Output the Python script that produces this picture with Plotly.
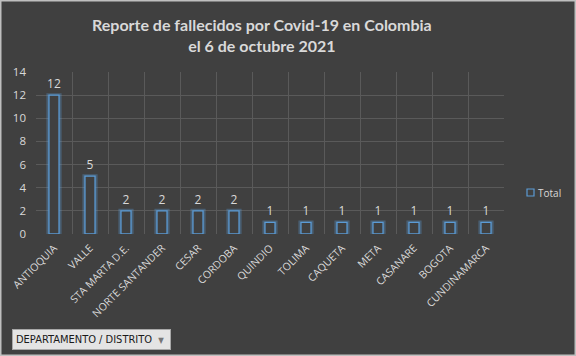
import plotly.graph_objects as go

categories = ["ANTIOQUIA", "VALLE", "STA MARTA D.E.", "NORTE SANTANDER", "CESAR",
              "CORDOBA", "QUINDIO", "TOLIMA", "CAQUETA", "META", "CASANARE",
              "BOGOTA", "CUNDINAMARCA"]
totals = [12, 5, 2, 2, 2, 2, 1, 1, 1, 1, 1, 1, 1]
y_ticks = [0, 2, 4, 6, 8, 10, 12, 14]
series_name = "Total"

W, H = 576, 356
L, R, T, B = 36, 72, 72, 122
pw, ph = W - L - R, H - T - B

bg = "#404040"
txt = "#d9d9d9"
blue = "#5b9bd5"


def px_x(p):
    return (p - L) / pw


def px_y(p):
    return (H - B - p) / ph


fig = go.Figure()
# glow
fig.add_trace(go.Bar(x=categories, y=totals, width=0.31,
                     marker=dict(color="rgba(0,0,0,0)", line=dict(color="rgba(91,155,213,0.35)", width=4)),
                     showlegend=False, hoverinfo="skip"))
fig.add_trace(go.Bar(x=categories, y=totals, name=series_name, width=0.28,
                     marker=dict(color=bg, line=dict(color=blue, width=1.3)),
                     text=[str(v) for v in totals], textposition="outside",
                     constraintext="none",
                     textfont=dict(color=txt, size=12, family="Open Sans"),
                     cliponaxis=False, showlegend=False))

fig.update_layout(
    width=W, height=H,
    margin=dict(l=L, r=R, t=T, b=B, autoexpand=False),
    paper_bgcolor=bg, plot_bgcolor=bg,
    barmode="overlay",
    font=dict(family="Open Sans", color=txt),
    showlegend=False,
    xaxis=dict(type="category", tickangle=-45, tickfont=dict(size=10.5, color=txt),
               showgrid=True, gridcolor="#5a5a5a", tickson="boundaries", ticks="",
               showline=False, zeroline=False, range=[-0.5, len(categories) - 0.5],
               ticklabelstandoff=5, automargin=False),
    yaxis=dict(range=[0, 14], tickvals=y_ticks, tickfont=dict(size=11.5, color=txt),
               showgrid=True, gridcolor="#5a5a5a", zeroline=False, showline=False,
               ticklabelstandoff=9, automargin=False),
)

# title
fig.add_annotation(text="<b>Reporte de fallecidos por Covid-19 en Colombia<br>el 6 de octubre 2021</b>",
                   xref="paper", yref="paper", x=px_x(262), y=px_y(34.5),
                   xanchor="center", yanchor="middle", showarrow=False,
                   font=dict(size=16, color=txt, family="Lato"))

# outer border
fig.add_shape(type="rect", xref="paper", yref="paper",
              x0=px_x(0.75), x1=px_x(W - 0.75), y0=px_y(H - 0.75), y1=px_y(0.75),
              line=dict(color="#bfbfbf", width=1.5))

# legend (custom)
fig.add_shape(type="rect", xref="paper", yref="paper",
              x0=px_x(527), x1=px_x(534), y0=px_y(196), y1=px_y(189),
              line=dict(color=blue, width=1.2), fillcolor=bg)
fig.add_annotation(text=series_name, xref="paper", yref="paper",
                   x=px_x(536), y=px_y(192.5), xanchor="left", yanchor="middle",
                   showarrow=False, font=dict(size=10, color=txt, family="Open Sans"))

# field button
fig.add_annotation(text="DEPARTAMENTO / DISTRITO  <span style='color:#777;font-size:8px'>\u25BC</span> ",
                   xref="paper", yref="paper",
                   x=px_x(12), y=px_y(339), xanchor="left", yanchor="middle",
                   showarrow=False, bgcolor="#e4e4e4", bordercolor="#a8a8a8", borderwidth=1,
                   borderpad=3, font=dict(size=11, color="#1a1a1a", family="DejaVu Sans Condensed"))

fig.write_html("out.html", config={"displayModeBar": False},
               post_script="document.body.style.margin='0';document.body.style.overflow='hidden';")
